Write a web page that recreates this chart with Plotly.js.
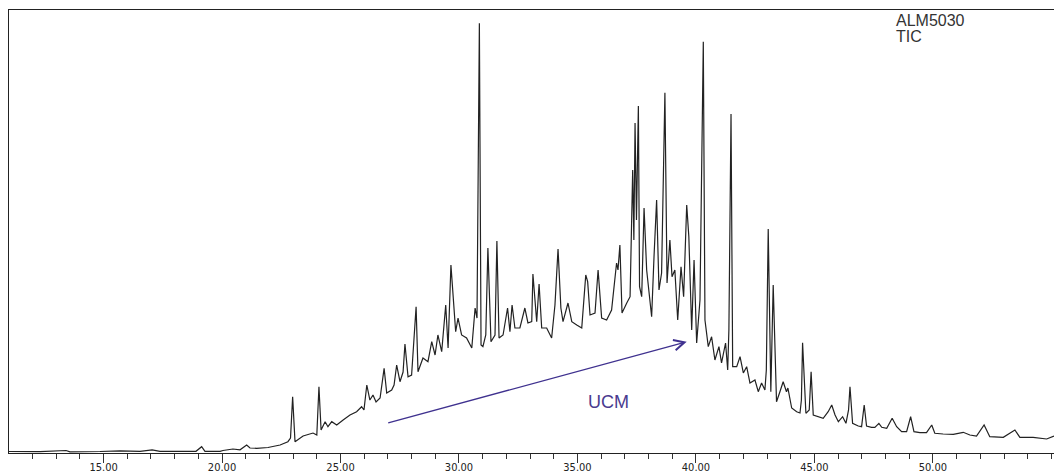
<!DOCTYPE html>
<html><head><meta charset="utf-8">
<script src="https://cdn.plot.ly/plotly-3.0.1.min.js"></script>
<style>html,body{margin:0;padding:0;background:#fff;overflow:hidden;} #chart{width:1054px;height:474px;}</style>
</head><body><div id="chart"></div>
<script>
// Retention time (min) and TIC relative abundance (%)
const retentionTime = [
 11.01,12.32,13.42,13.58,14.85,15.70,16.54,17.05,17.38,18.23,
 18.90,19.14,19.28,19.92,20.04,20.46,20.76,21.04,21.18,21.46,
 21.94,22.45,22.78,22.89,22.98,23.08,23.42,23.84,24.00,24.09,
 24.18,24.35,24.47,24.63,24.84,25.11,25.40,25.68,25.89,25.99,
 26.11,26.24,26.37,26.50,26.67,26.84,26.95,27.16,27.26,27.37,
 27.51,27.64,27.72,27.85,28.00,28.19,28.27,28.48,28.69,28.85,
 28.99,29.11,29.27,29.44,29.54,29.66,29.75,29.86,29.96,30.11,
 30.32,30.54,30.68,30.76,30.86,30.93,31.01,31.13,31.22,31.35,
 31.52,31.60,31.69,31.86,32.05,32.15,32.24,32.36,32.57,32.78,
 32.91,33.07,33.12,33.28,33.38,33.49,33.70,33.91,34.05,34.18,
 34.30,34.39,34.60,34.76,34.97,35.18,35.35,35.43,35.53,35.74,
 35.87,36.02,36.23,36.44,36.65,36.71,36.79,36.88,37.08,37.22,
 37.33,37.38,37.43,37.49,37.57,37.62,37.71,37.81,37.92,38.02,
 38.13,38.23,38.34,38.44,38.55,38.69,38.78,38.90,38.99,39.11,
 39.23,39.37,39.48,39.61,39.70,39.82,39.92,40.03,40.17,40.31,
 40.38,40.52,40.66,40.80,40.97,41.08,41.25,41.34,41.39,41.48,
 41.55,41.72,41.86,42.00,42.14,42.28,42.49,42.63,42.77,42.91,
 42.97,43.05,43.16,43.26,43.40,43.54,43.68,43.82,43.88,44.04,
 44.25,44.39,44.45,44.50,44.64,44.78,44.86,44.95,45.16,45.37,
 45.58,45.73,45.87,46.01,46.19,46.33,46.44,46.50,46.61,46.85,
 46.99,47.10,47.20,47.41,47.55,47.72,47.84,48.05,48.28,48.47,
 48.68,48.89,49.06,49.20,49.45,49.73,49.95,50.08,50.43,50.86,
 51.28,51.56,51.84,52.16,52.40,52.97,53.46,53.67,54.23,54.80,
 55.11
];
const ticAbundance = [
 0.34,0.29,0.56,0.27,0.34,0.50,0.38,0.72,0.38,0.34,
 0.38,1.42,0.38,0.38,0.56,0.90,0.72,1.81,1.13,1.06,
 1.24,1.81,2.55,3.39,12.71,2.55,3.84,4.51,4.06,14.97,
 5.19,7.07,5.94,7.07,6.32,7.45,8.58,9.32,10.45,9.71,
 15.35,11.96,13.09,11.51,12.42,19.12,13.54,14.22,15.35,19.86,
 16.09,18.28,24.60,17.22,17.61,33.02,18.35,21.44,20.61,25.12,
 22.12,26.64,22.87,33.41,23.70,42.44,35.67,27.38,30.47,26.64,
 25.96,23.70,32.73,30.47,97.0,24.38,24.00,26.64,46.28,25.12,
 26.64,47.86,25.96,26.64,32.73,27.38,33.41,28.22,28.22,32.73,
 29.35,29.64,40.41,29.64,38.15,28.22,28.22,25.96,33.41,46.05,
 32.73,29.64,33.86,29.64,28.89,28.22,40.18,38.67,31.15,31.60,
 41.31,30.47,30.02,32.28,42.89,41.31,46.95,31.60,33.86,35.28,
 63.88,48.08,74.49,52.60,78.33,37.54,35.28,55.30,41.31,36.12,
 30.77,44.31,57.11,36.79,40.63,81.33,38.37,48.08,39.80,41.31,
 30.02,42.05,35.28,55.98,48.83,27.77,43.57,24.83,34.54,92.84,
 30.02,24.00,26.25,20.99,24.00,20.32,24.83,18.74,27.77,76.52,
 19.48,19.48,21.74,18.06,19.48,15.80,16.48,13.84,15.80,14.22,
 18.74,50.56,13.84,37.92,11.58,13.77,16.09,13.84,14.67,10.16,
 9.32,9.03,11.96,24.90,8.96,9.71,18.35,8.58,8.19,7.83,
 9.32,10.84,8.58,7.07,8.19,6.70,9.71,14.97,6.70,6.09,
 5.94,10.84,6.09,5.80,5.80,6.70,5.80,5.58,7.83,5.94,
 4.81,4.81,8.19,4.81,4.58,4.58,6.32,4.45,4.29,4.22,
 4.67,4.06,3.84,6.32,3.68,3.54,5.19,3.54,3.54,3.16,
 3.84
];
const tickValues = [15, 20, 25, 30, 35, 40, 45, 50];
const tickLabels = ["15.00", "20.00", "25.00", "30.00", "35.00", "40.00", "45.00", "50.00"];
const sampleLabels = ["ALM5030", "TIC"];
const ucmLabel = "UCM";
const ucmArrowStart = [26.95, 6.70];
const ucmArrowEnd = [39.61, 25.12];
const ucmLabelPos = [36.33, 11.6];

const trace = {
  x: retentionTime, y: ticAbundance, type: 'scatter', mode: 'lines',
  line: {color: '#222222', width: 1.2}, hoverinfo: 'skip', showlegend: false
};

const labelFont = {family: '"Liberation Sans", Arial, sans-serif', size: 16, color: '#333333'};

const layout = {
  width: 1054, height: 474,
  margin: {l: 9, r: 0, t: 10, b: 21, pad: 0},
  paper_bgcolor: '#ffffff', plot_bgcolor: '#ffffff',
  showlegend: false,
  xaxis: {
    range: [11.01, 55.11], showgrid: false, zeroline: false,
    showline: true, linecolor: '#222222', linewidth: 1.3, mirror: true,
    tickmode: 'array', tickvals: tickValues, ticktext: tickLabels,
    ticks: 'outside', ticklen: 9, tickwidth: 1, tickcolor: '#333333',
    ticklabelstandoff: -6,
    tickfont: {family: '"Liberation Sans Narrow", "DejaVu Sans Condensed", "Liberation Sans", sans-serif', size: 11, color: '#222222'},
    minor: {tickmode: 'linear', tick0: 11, dtick: 1, ticks: 'outside', ticklen: 5, tickwidth: 1, tickcolor: '#333333', showgrid: false}
  },
  yaxis: {
    range: [0, 100], showgrid: false, zeroline: false,
    showline: true, linecolor: '#222222', linewidth: 1.3, mirror: false,
    showticklabels: false, ticks: ''
  },
  annotations: [
    {x: ucmArrowEnd[0], y: ucmArrowEnd[1], ax: ucmArrowStart[0], ay: ucmArrowStart[1],
     xref: 'x', yref: 'y', axref: 'x', ayref: 'y', text: '', showarrow: true,
     arrowhead: 5, arrowsize: 1.6, arrowwidth: 1.3, arrowcolor: '#3f318f', standoff: 0, startstandoff: 0},
    {x: ucmLabelPos[0], y: ucmLabelPos[1], xref: 'x', yref: 'y', text: ucmLabel, showarrow: false,
     font: {family: '"Liberation Sans", Arial, sans-serif', size: 18, color: '#4a3b8f'}},
    {x: 0.847, y: 0.9763, xref: 'paper', yref: 'paper', xanchor: 'left', yanchor: 'middle', align: 'left',
     text: sampleLabels[0], showarrow: false, font: labelFont},
    {x: 0.847, y: 0.9413, xref: 'paper', yref: 'paper', xanchor: 'left', yanchor: 'middle', align: 'left',
     text: sampleLabels[1], showarrow: false, font: labelFont}
  ]
};

Plotly.newPlot('chart', [trace], layout, {staticPlot: true, displayModeBar: false});
</script>
</body></html>
